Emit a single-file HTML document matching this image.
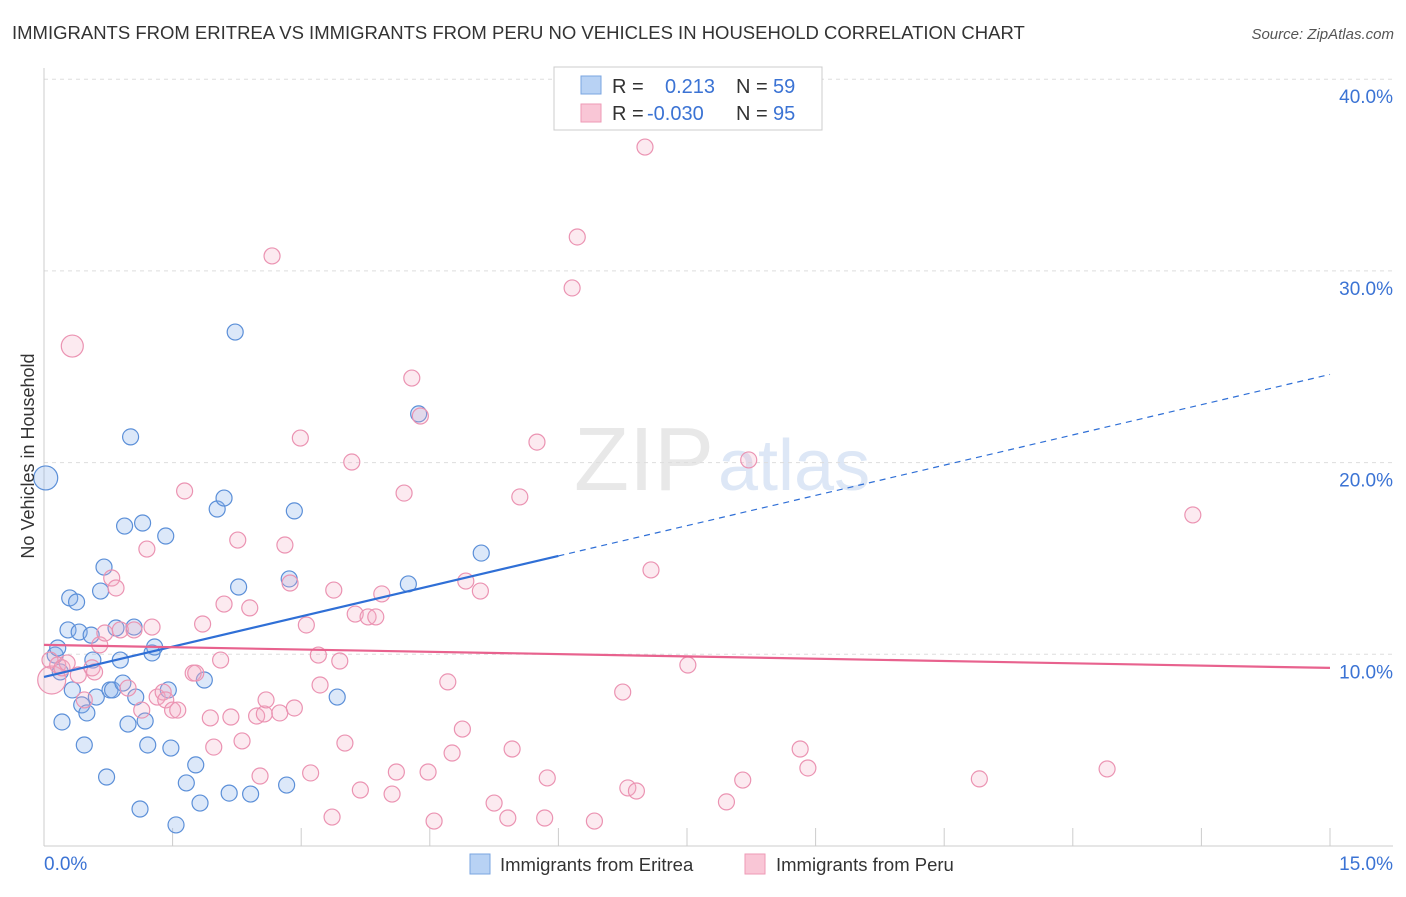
<!DOCTYPE html>
<html><head><meta charset="utf-8"><style>
body{margin:0;background:#fff;font-family:"Liberation Sans",sans-serif;}
svg text{font-family:"Liberation Sans",sans-serif;}
</style></head><body>
<svg id="chart" width="1406" height="892" viewBox="0 0 1406 892" xmlns="http://www.w3.org/2000/svg">
<rect width="1406" height="892" fill="#fff"/>
<text x="12" y="39" font-size="18.5" fill="#333">IMMIGRANTS FROM ERITREA VS IMMIGRANTS FROM PERU NO VEHICLES IN HOUSEHOLD CORRELATION CHART</text>
<text x="1394" y="39" font-size="15" fill="#555" font-style="italic" text-anchor="end">Source: ZipAtlas.com</text>
<text x="714" y="490" font-size="90" fill="#e8e8e8" text-anchor="end" font-family="Liberation Serif">ZIP</text>
<text x="718" y="490" font-size="72" fill="#dde7f6">atlas</text>
<g id="grid"></g>
<g id="axes"></g>
<g id="points"></g>
<g id="trends"></g>
<text transform="translate(34,456) rotate(-90)" font-size="18" fill="#333" text-anchor="middle">No Vehicles in Household</text>
<g>
<rect x="554" y="67" width="268" height="63" fill="#fff" stroke="#ccc"/>
<rect x="581" y="76" width="20" height="18" fill="#b8d2f4" stroke="#7aa5e0"/>
<rect x="581" y="104" width="20" height="18" fill="#f9c6d6" stroke="#ee9ab6"/>
<text x="612" y="93" font-size="20" fill="#333">R =</text>
<text x="665" y="93" font-size="20" fill="#3b73d4">0.213</text>
<text x="736" y="93" font-size="20" fill="#333">N =</text>
<text x="773" y="93" font-size="20" fill="#3b73d4">59</text>
<text x="612" y="120" font-size="20" fill="#333">R =</text>
<text x="647" y="120" font-size="20" fill="#3b73d4">-0.030</text>
<text x="736" y="120" font-size="20" fill="#333">N =</text>
<text x="773" y="120" font-size="20" fill="#3b73d4">95</text>
</g>
<g>
<rect x="470" y="854" width="20" height="20" fill="#b8d2f4" stroke="#7aa5e0"/>
<text x="500" y="871" font-size="18.5" fill="#333">Immigrants from Eritrea</text>
<rect x="745" y="854" width="20" height="20" fill="#f9c6d6" stroke="#ee9ab6"/>
<text x="776" y="871" font-size="18.5" fill="#333">Immigrants from Peru</text>
</g>
</svg>
<script>
const xTicks=[0,1.5,3,4.5,6,7.5,9,10.5,12,13.5,15];
const yTicks=[10,20,30,40];
const yTickLabels=["10.0%","20.0%","30.0%","40.0%"];
const xTickLabels=["0.0%","15.0%"];
const eritreaX=[0.02,0.13,0.16,0.19,0.21,0.28,0.30,0.33,0.38,0.41,0.44,0.47,0.50,0.55,0.57,0.61,0.66,0.70,0.73,0.77,0.80,0.84,0.89,0.92,0.94,0.98,1.01,1.05,1.07,1.12,1.15,1.18,1.21,1.26,1.29,1.42,1.45,1.48,1.54,1.66,1.77,1.82,1.87,2.02,2.10,2.16,2.23,2.27,2.41,2.83,2.86,2.92,3.42,4.25,4.37,5.10];
const eritreaY=[19.2,9.96,10.33,9.08,6.47,11.27,12.94,8.14,12.73,11.16,7.36,5.27,6.94,11.0,9.70,7.77,13.30,14.55,3.60,8.14,8.14,11.37,9.70,8.50,16.69,6.36,21.34,11.42,7.77,1.93,16.85,6.52,5.27,10.07,10.38,16.17,8.14,5.11,1.10,3.29,4.23,2.24,8.66,17.58,18.15,2.76,26.81,13.51,2.71,3.18,13.93,17.48,7.77,13.67,22.54,15.28];
const peruX=[0.09,0.07,0.16,0.21,0.27,0.33,0.40,0.47,0.56,0.59,0.65,0.71,0.79,0.84,0.89,0.98,1.05,1.14,1.20,1.26,1.32,1.39,1.42,1.50,1.56,1.64,1.74,1.77,1.85,1.94,1.98,2.06,2.10,2.18,2.26,2.31,2.40,2.48,2.52,2.57,2.59,2.66,2.75,2.81,2.87,2.92,2.99,3.06,3.11,3.20,3.22,3.36,3.38,3.45,3.51,3.59,3.63,3.69,3.78,3.87,3.94,4.06,4.11,4.20,4.29,4.39,4.48,4.55,4.71,4.76,4.88,4.92,5.09,5.25,5.41,5.46,5.55,5.75,5.84,5.87,6.16,6.22,6.42,6.75,6.81,6.91,7.01,7.08,7.51,7.96,8.15,8.22,8.82,8.91,10.91,12.40,13.40];
const peruY=[8.66,9.70,9.44,9.29,9.55,26.08,8.92,7.62,9.29,9.08,10.49,11.11,13.98,13.46,11.27,8.24,11.27,7.09,15.49,11.42,7.77,8.03,7.62,7.09,7.09,18.52,9.02,9.02,11.58,6.68,5.16,9.70,12.62,6.73,15.96,5.48,12.42,6.78,3.65,6.89,7.62,30.78,6.94,15.70,13.72,7.20,21.28,11.53,3.81,9.96,8.40,1.51,13.35,9.65,5.37,20.03,12.10,2.92,11.95,11.95,13.15,2.71,3.86,18.41,24.41,22.43,3.86,1.30,8.56,4.85,6.10,13.82,13.30,2.24,1.46,5.06,18.21,21.07,1.46,3.55,29.11,31.77,1.30,8.03,3.03,2.87,36.46,14.40,9.44,2.30,3.44,20.14,5.06,4.07,3.50,4.02,17.27];
const eritreaTrend=[8.82,1.052];
const peruTrend=[10.49,-0.08];

const NS="http://www.w3.org/2000/svg";
const X0=44,X1=1330,Y0=846,PPY=19.17;
const xs=v=>X0+(X1-X0)*v/15;
const ys=v=>Y0-v*PPY;
function mk(tag,attrs,parent){const e=document.createElementNS(NS,tag);for(const k in attrs)e.setAttribute(k,attrs[k]);parent.appendChild(e);return e;}
const grid=document.getElementById('grid'),axes=document.getElementById('axes'),pts=document.getElementById('points'),tr=document.getElementById('trends');
yTicks.forEach((t,i)=>{
 const l=mk('line',{x1:X0,x2:1393,y1:ys(t),y2:ys(t),stroke:'#ddd','stroke-dasharray':'4,4'},grid);
 
 
 const tx=mk('text',{x:1393,y:ys(t)+24,'font-size':19,fill:'#3b73d4','text-anchor':'end'},axes);
 tx.textContent=yTickLabels[i];
 
 
});
let a=mk('line',{x1:X0,x2:1393,y1:Y0,y2:Y0,stroke:'#ccc'},axes);


a=mk('line',{x1:X0,x2:X0,y1:68,y2:Y0,stroke:'#ccc'},axes);


xTicks.forEach(t=>{
 const l=mk('line',{x1:xs(t),x2:xs(t),y1:828,y2:Y0,stroke:'#ccc'},axes);
 
 
});
let t1=mk('text',{x:44,y:870,'font-size':19,fill:'#3b73d4'},axes);t1.textContent=xTickLabels[0];


let t2=mk('text',{x:1393,y:870,'font-size':19,fill:'#3b73d4','text-anchor':'end'},axes);t2.textContent=xTickLabels[1];


eritreaX.forEach((v,i)=>{
 const c=mk('circle',{cx:xs(v),cy:ys(eritreaY[i]),r:i===0?12:8,fill:'rgba(140,180,235,0.3)',stroke:'#5b8fd8','stroke-width':1.2},pts);
 
 
});
peruX.forEach((v,i)=>{
 const c=mk('circle',{cx:xs(v),cy:ys(peruY[i]),r:(i===0?14:(i===5?11:8)),fill:'rgba(245,170,195,0.25)',stroke:'#eb93b2','stroke-width':1.2},pts);
 
 
});
let l1=mk('line',{x1:xs(0),y1:ys(eritreaTrend[0]),x2:xs(6),y2:ys(eritreaTrend[0]+eritreaTrend[1]*6),stroke:'#2f6fd6','stroke-width':2.2},tr);


let l2=mk('line',{x1:xs(6),y1:ys(eritreaTrend[0]+eritreaTrend[1]*6),x2:xs(15),y2:ys(eritreaTrend[0]+eritreaTrend[1]*15),stroke:'#2f6fd6','stroke-width':1.2,'stroke-dasharray':'6,5'},tr);


let l3=mk('line',{x1:xs(0),y1:ys(peruTrend[0]),x2:xs(15),y2:ys(peruTrend[0]+peruTrend[1]*15),stroke:'#e8628e','stroke-width':2.2},tr);


</script>
</body></html>
